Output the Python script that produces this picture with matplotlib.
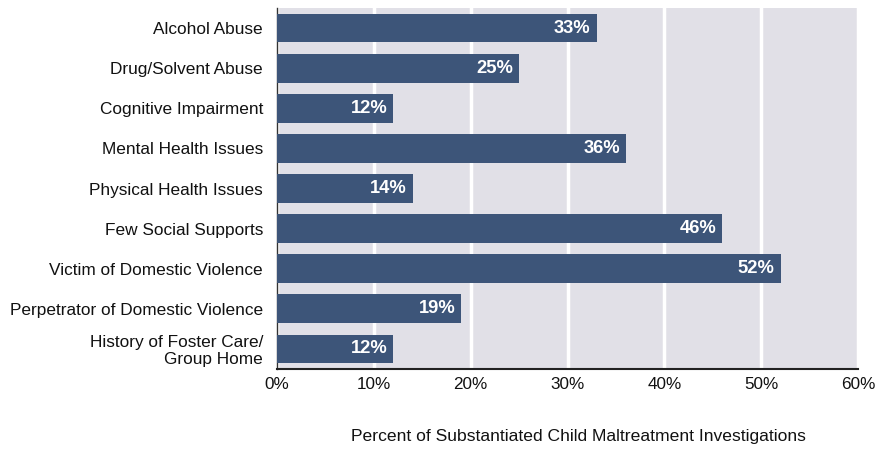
import matplotlib
matplotlib.use("Agg")
import matplotlib.pyplot as plt

plt.rcParams['font.family'] = ["Liberation Sans", "DejaVu Sans"]

categories = ["Alcohol Abuse", "Drug/Solvent Abuse", "Cognitive Impairment",
              "Mental Health Issues", "Physical Health Issues", "Few Social Supports",
              "Victim of Domestic Violence", "Perpetrator of Domestic Violence",
              "History of Foster Care/\nGroup Home"]
values = [33, 25, 12, 36, 14, 46, 52, 19, 12]
xticks = [0, 10, 20, 30, 40, 50, 60]
xticklabels = ["0%", "10%", "20%", "30%", "40%", "50%", "60%"]
xlabel = "Percent of Substantiated Child Maltreatment Investigations"

fig = plt.figure(figsize=(8.75, 4.49), dpi=100)
ax = fig.add_axes([277/875, 1-369/449, (858-277)/875, (369-8)/449])
ax.set_facecolor("#e1e0e7")
y = list(range(len(categories)))
ax.barh(y, values, height=0.72, color="#3d5579", zorder=3)
for yi, v in zip(y, values):
    ax.text(v - 0.6, yi, f"{v}%", ha="right", va="center", color="white",
            fontsize=13.2, fontweight="bold", zorder=4)
ax.set_xlim(0, 60)
ax.set_ylim(8.5, -0.5)
ax.set_xticks(xticks)
ax.set_xticklabels(xticklabels, fontsize=12.3, color="#111111")
ax.set_yticks(y)
ax.set_yticklabels(categories, fontsize=12.4, color="#111111", linespacing=1.15)
ax.tick_params(axis='y', length=0, pad=10)
ax.tick_params(axis='x', length=0, pad=6)
ax.xaxis.grid(True, color="white", linewidth=2.5, zorder=1)
ax.set_axisbelow(True)
for s in ["top", "right"]:
    ax.spines[s].set_visible(False)
ax.spines["left"].set_color("#333333")
ax.spines["bottom"].set_color("#222222")
ax.spines["left"].set_linewidth(1)
ax.spines["bottom"].set_linewidth(1.5)
ax.set_xlabel(xlabel, fontsize=12.6, color="#111111")
ax.xaxis.set_label_coords((578 - 277) / (858 - 277), -((437 - 369) / (369 - 8)))
ax.xaxis.label.set_va("center")
fig.savefig("out.png", dpi=100)
